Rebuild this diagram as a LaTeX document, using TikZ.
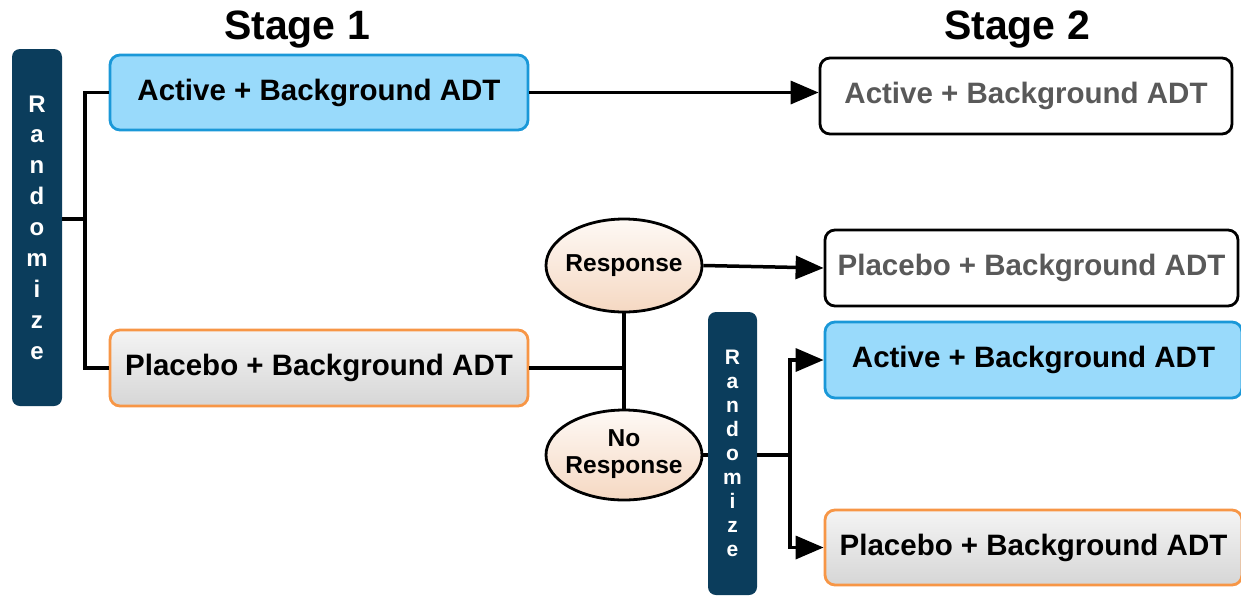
\documentclass[tikz,border=0pt]{standalone}
\usepackage{fontspec}
\setmainfont{Liberation Sans}
\usetikzlibrary{arrows.meta,shapes.geometric}
\definecolor{barblue}{HTML}{0B3D5C}
\definecolor{lblue}{HTML}{99DAFB}
\definecolor{bborder}{HTML}{1A98D8}
\definecolor{oborder}{HTML}{F79646}
\definecolor{gtop}{HTML}{F4F4F4}
\definecolor{gbot}{HTML}{D6D6D6}
\definecolor{etop}{HTML}{FEF9F5}
\definecolor{ebot}{HTML}{F5D8C2}
\definecolor{gtext}{HTML}{595959}
\begin{document}
\begin{tikzpicture}[x=1pt,y=-1pt,
  box/.style={rounded corners=10pt, line width=2.8pt, minimum width=418pt, minimum height=75pt, inner sep=0pt, font=\fontsize{29.5}{32}\selectfont\bfseries},
  activebox/.style={box, fill=lblue, draw=bborder},
  placebobox/.style={box, top color=gtop, bottom color=gbot, draw=oborder},
  laterbox/.style={box, fill=white, draw=black, text=gtext},
  randbar/.style={rounded corners=8pt, fill=barblue, text=white, align=center, inner sep=0pt},
  resp/.style={ellipse, draw=black, line width=2.8pt, top color=etop, bottom color=ebot, minimum width=156pt, minimum height=93pt, inner sep=0pt, font=\fontsize{24.5}{27}\selectfont\bfseries},
  conn/.style={line width=3.5pt},
  arr/.style={conn, -{Triangle[length=28pt,width=23pt]}},
  title/.style={font=\fontsize{41}{44}\selectfont\bfseries}
]
\useasboundingbox (0,0) rectangle (1241,595);
\fill[white] (0,0) rectangle (1241,595);

\node[title] (st1) at (297,30) {Stage 1};
\node[title] (st2) at (1017,30) {Stage 2};

\node[randbar, minimum width=50pt, minimum height=357pt, font=\fontsize{24}{30.9}\selectfont\bfseries] (bar1) at (37,227.5) {R\\a\\n\\d\\o\\m\\i\\z\\e};

\node[activebox] (A1) at (319,92.5) {Active + Background ADT};
\node[placebobox, minimum height=76pt] (P1) at (319,368) {Placebo + Background ADT};

\node[laterbox, minimum width=412pt, minimum height=76pt] (S2A) at (1026,96) {Active + Background ADT};
\node[laterbox, minimum width=413pt, minimum height=76pt] (S2P) at (1031.5,268) {Placebo + Background ADT};

\node[resp] (rs) at (624,265.5) {\makebox[0pt]{Response}};
\node[resp, minimum height=90pt] (nr) at (624,455) {\makebox[0pt]{\begin{tabular}{@{}c@{}}No\\Response\end{tabular}}};

\node[randbar, minimum width=49pt, minimum height=283pt, font=\fontsize{21}{24}\selectfont\bfseries] (bar2) at (732.5,453.5) {R\\a\\n\\d\\o\\m\\i\\z\\e};

\node[activebox, minimum width=417pt, minimum height=76pt] (A2) at (1033.5,360) {Active + Background ADT};
\node[placebobox, minimum width=417pt, minimum height=75pt] (P2) at (1033.5,547.5) {Placebo + Background ADT};

% stage 1 randomisation
\coordinate (j1) at (85,219);
\draw[conn] (bar1.east |- j1) -- (j1);
\draw[conn] (A1.west) -| (j1) |- (P1.west);

% active continues
\draw[arr] (A1.east) -- (A1.east -| S2A.west);

% placebo to response split
\coordinate (j2) at (rs.south |- P1.east);
\draw[conn] (P1.east) -- (j2);
\draw[conn] (rs.south) -- (nr.north);

\draw[arr] (rs.east) -- (S2P.west);

% no response to re-randomisation
\draw[conn] (nr.east) -- (nr.east -| bar2.west);
\coordinate (j3) at (790,455);
\draw[conn] (bar2.east |- j3) -- (j3);
\draw[arr] (j3) |- (A2.west);
\draw[arr] (j3) |- (P2.west);
\end{tikzpicture}
\end{document}
